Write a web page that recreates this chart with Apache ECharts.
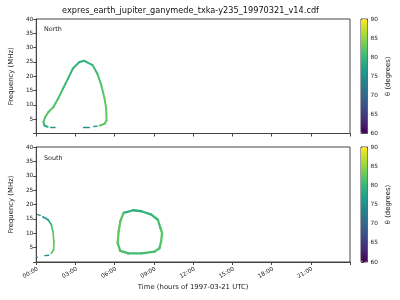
<!DOCTYPE html>
<html><head><meta charset="utf-8">
<script src="https://cdn.jsdelivr.net/npm/echarts@6/dist/echarts.min.js"></script>
<style>html,body{margin:0;padding:0;background:#fff}#c{width:400px;height:300px}</style>
</head><body><div id="c"></div>
<script>
// ---- data: [time (h), frequency (MHz), theta (deg)] ----
const northMain = [
  [0.875,2.3,79],[0.625,2.8,80],[0.55,4.0,82],[0.675,5.7,82],[0.93,7.5,82],[1.3,9.2,81.5],
  [1.67,12.2,81],[2.05,15.7,80.5],[2.43,19.2,80],[2.8,22.7,79.5],[3.3,25.0,79],[3.675,25.4,79.5],
  [4.3,23.9,80.5],[4.675,20.9,81.5],[4.98,16.8,82],[5.225,12.2,82.5],[5.35,8.7,82.5],
  [5.375,4.56,82.5],[5.225,3.4,82],[4.85,2.75,79]
];
const northDash1 = [[1.1,2.1,76],[1.43,2.1,76]];
const northDash2 = [[3.62,2.1,75],[4.05,2.1,75]];
const northDash3 = [[4.4,2.45,77],[4.65,2.55,77]];
const southLeft = [
  [0.5,15.7,76],[0.9,14.7,78],[1.15,13.0,81],[1.275,10.6,82.5],[1.35,7.1,82.5],
  [1.325,4.2,82],[1.15,3.0,78]
];
const southTopDash = [[0.1,16.5,75],[0.3,16.2,75]];
const southDash = [[0.65,2.2,75],[0.95,2.35,76]];
const southDot = [[0.0,1.65,71],[0.08,1.65,71]];
const southLoop = [
  [6.675,17.1,79],[7.425,18.0,79],[8.05,17.65,79.5],[8.8,16.5,80],[9.3,14.7,81],[9.5,11.8,81.5],
  [9.625,10.1,82],[9.55,7.1,82],[9.425,4.8,81.5],[9.05,3.6,81],[8.05,3.0,81],[7.05,3.0,81],
  [6.425,3.9,81.5],[6.225,6.55,82.5],[6.3,10.6,82.5],[6.425,14.1,82],[6.675,17.1,79]
];
const timeLabels = ['00:00','03:00','06:00','09:00','12:00','15:00','18:00','21:00'];
const thetaTicks = [60,65,70,75,80,85,90];
const panelNames = ['North','South'];
const titleText = 'expres_earth_jupiter_ganymede_txka-y235_19970321_v14.cdf';
const viridis = ['#440154','#482878','#3e4989','#31688e','#26828e','#1f9e89','#35b779','#6ece58','#b5de2b','#fde725'];

const FONT = 'DejaVu Sans';
const chart = echarts.init(document.getElementById('c'), null, {renderer:'canvas'});

function seg(data, g, width) {
  return {
    type:'custom', xAxisIndex:g, yAxisIndex:g, data:data, dimensions:['t','f','theta'],
    encode:{x:0,y:1}, silent:true, animation:false, clip:true,
    renderItem:function(params, api){
      const i = params.dataIndex;
      if (i >= data.length-1) return;
      const p0 = api.coord([data[i][0], data[i][1]]);
      const p1 = api.coord([data[i+1][0], data[i+1][1]]);
      return {type:'line', shape:{x1:p0[0],y1:p0[1],x2:p1[0],y2:p1[1]},
        style:{stroke:api.visual('color'), lineWidth:width, lineCap:'round'}};
    }
  };
}

const grids = [
  {left:31, top:19, width:319, height:114.5},
  {left:31, top:147, width:319, height:115}
];
const axisCol = '#444';
const tickFont = {fontFamily:FONT, fontSize:5.8, color:'#222'};

const xAxes = [], yAxes = [], gridOpts = [];
grids.forEach((g,i)=>{
  gridOpts.push(Object.assign({show:true, borderColor:axisCol, borderWidth:1, containLabel:false}, g));
  xAxes.push({
    gridIndex:i, type:'value', min:0, max:24, interval:3,
    axisLine:{show:true, lineStyle:{color:axisCol}},
    axisTick:{show:true, length:3, lineStyle:{color:axisCol}},
    splitLine:{show:false},
    axisLabel:{show:i===1, rotate:30, margin:4, align:'right', verticalAlign:'top', ...tickFont,
      formatter:v=> (v<24 ? timeLabels[Math.round(v/3)] : '')},
    name: i===1 ? 'Time (hours of 1997-03-21 UTC)' : '',
    nameLocation:'middle', nameGap:21.5,
    nameTextStyle:{fontFamily:FONT, fontSize:6.9, color:'#222'}
  });
  yAxes.push({
    gridIndex:i, type:'value', min:0, max:40, interval:5,
    axisLine:{show:true, lineStyle:{color:axisCol}},
    axisTick:{show:true, length:3, lineStyle:{color:axisCol}},
    splitLine:{show:false},
    axisLabel:{margin:3, ...tickFont, formatter:v=> v===0 ? '' : String(v)},
    name:'Frequency (MHz)', nameLocation:'middle', nameGap:17, nameRotate:90,
    nameTextStyle:{fontFamily:FONT, fontSize:6.9, color:'#222'}
  });
});
// colorbar axes
grids.forEach((g,i)=>{
  gridOpts.push({show:true, borderColor:axisCol, borderWidth:1, left:361, top:g.top, width:6.5, height:g.height, backgroundColor:'transparent'});
  xAxes.push({gridIndex:2+i, type:'value', show:false, min:0, max:1});
  yAxes.push({
    gridIndex:2+i, type:'value', min:thetaTicks[0], max:thetaTicks[thetaTicks.length-1], interval:5, position:'right',
    axisLine:{show:false}, axisTick:{show:true, length:3, lineStyle:{color:axisCol}},
    splitLine:{show:false},
    axisLabel:{margin:3, ...tickFont},
    name:'θ (degrees)', nameLocation:'middle', nameGap:17, nameRotate:90,
    nameTextStyle:{fontFamily:FONT, fontSize:6.9, color:'#222'}
  });
});

const series = [
  seg(northMain,0,2.0), seg(northDash1,0,1.4), seg(northDash2,0,1.4), seg(northDash3,0,1.4),
  seg(southLeft,1,1.7), seg(southTopDash,1,1.3), seg(southDash,1,1.3), seg(southDot,1,1.3), seg(southLoop,1,2.3)
];

const vm = (idx, g) => ({
  type:'continuous', min:60, max:90, dimension:2, seriesIndex:idx,
  inRange:{color:viridis}, calculable:false, realtime:false, hoverLink:false,
  orient:'vertical', left:361, top:g.top, itemWidth:6.5, itemHeight:g.height,
  padding:0, text:null, showLabel:false, textStyle:{fontSize:0}
});

chart.setOption({
  animation:false,
  backgroundColor:'#fff',
  textStyle:{fontFamily:FONT},
  grid:gridOpts, xAxis:xAxes, yAxis:yAxes,
  visualMap:[vm([0,1,2,3],grids[0]), vm([4,5,6,7,8],grids[1])],
  series:series,
  graphic:[
    {type:'text', x:190.5, y:11, style:{text:titleText, align:'center', verticalAlign:'middle', font:'8.2px "DejaVu Sans"', fill:'#111'}},
    {type:'text', x:44, y:29.5, style:{text:panelNames[0], verticalAlign:'middle', font:'6.4px "DejaVu Sans"', fill:'#222'}},
    {type:'text', x:44, y:158.5, style:{text:panelNames[1], verticalAlign:'middle', font:'6.4px "DejaVu Sans"', fill:'#222'}}
  ]
});
</script></body></html>
